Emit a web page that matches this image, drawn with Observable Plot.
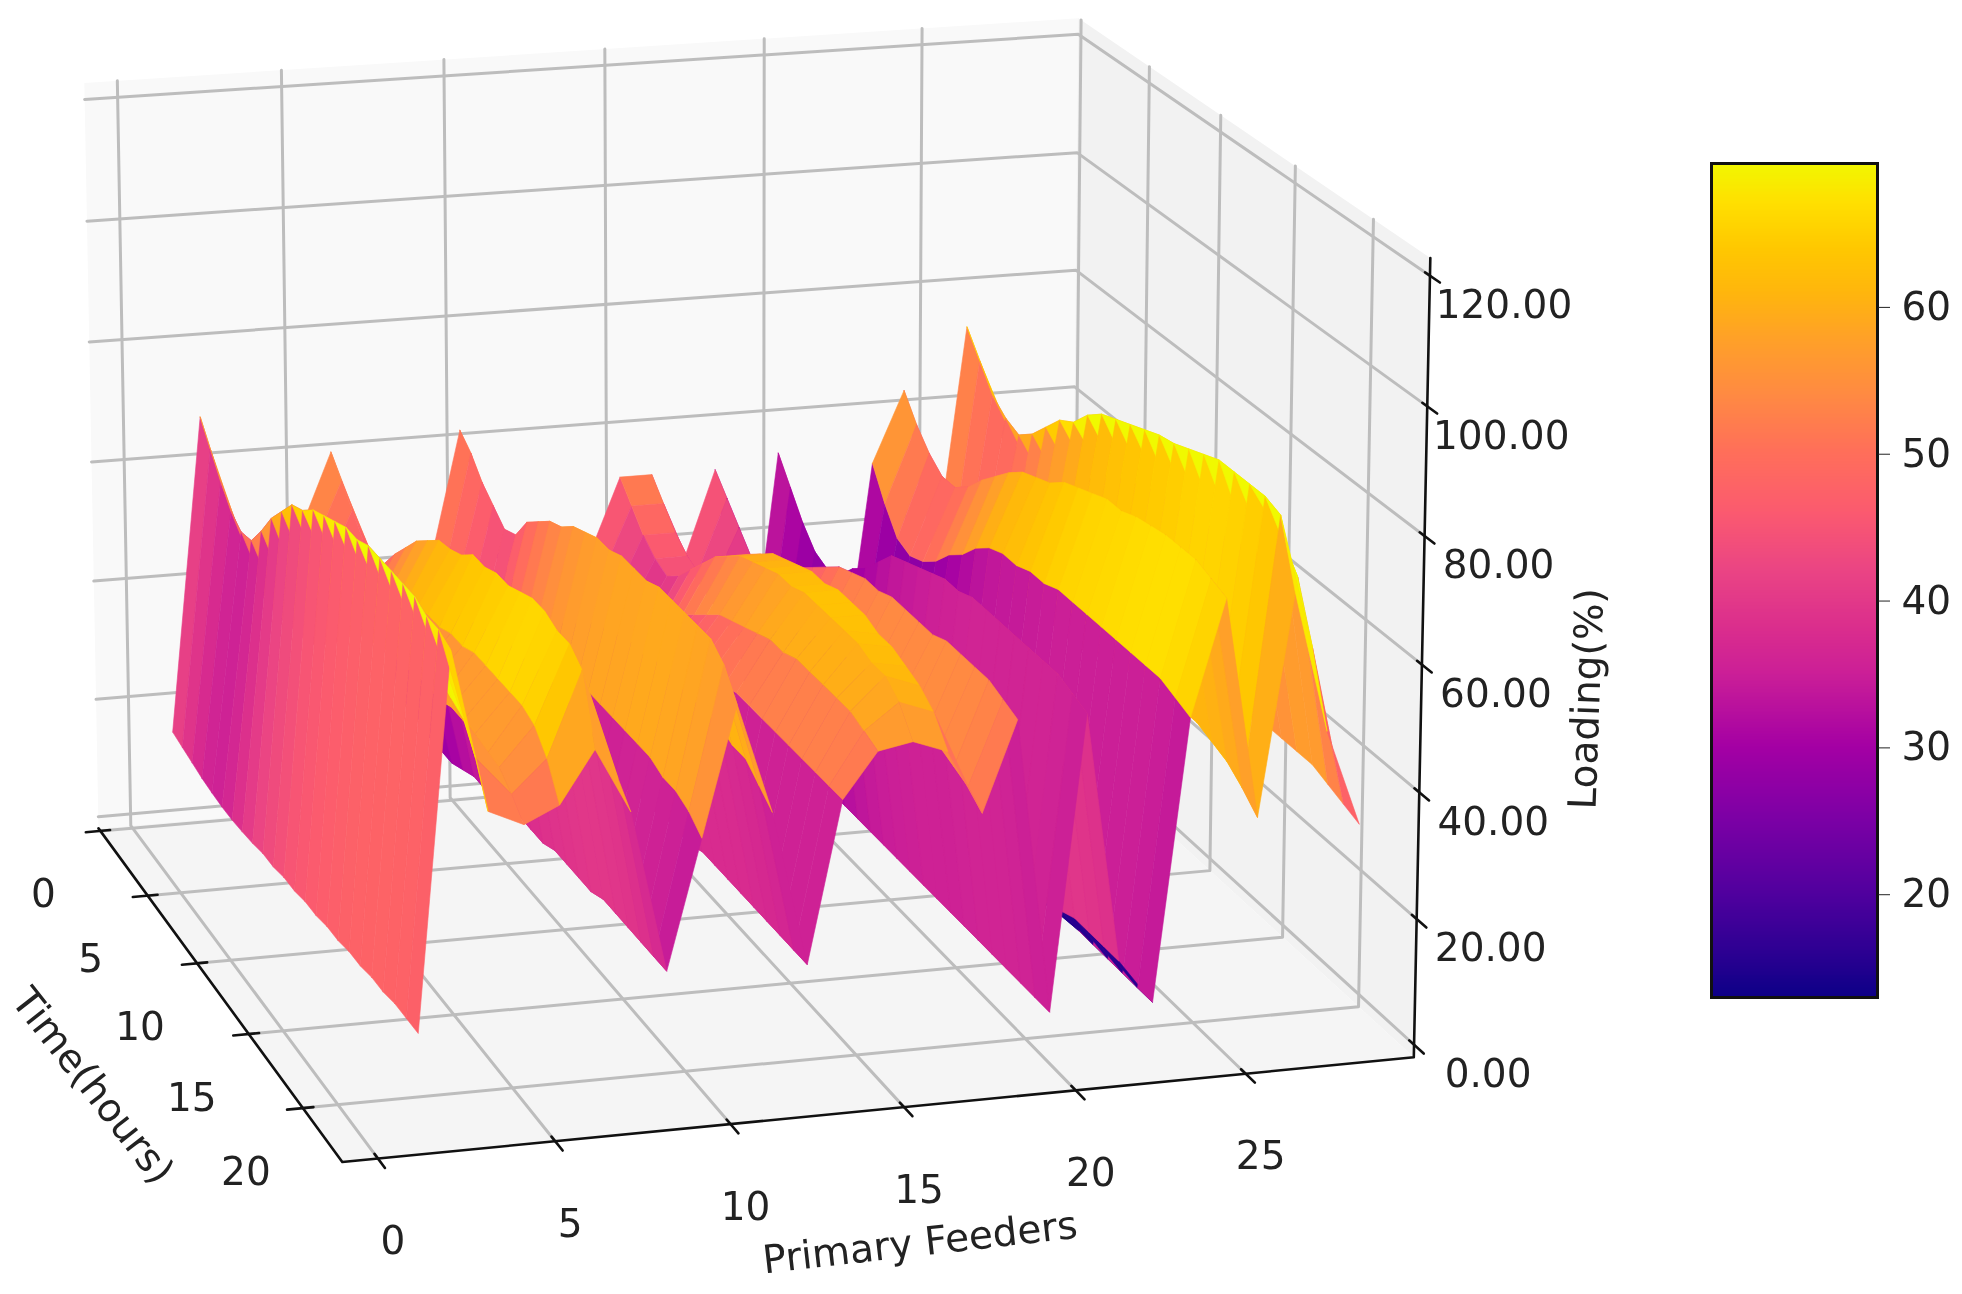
<!DOCTYPE html>
<html><head><meta charset="utf-8">
<script src="https://cdn.jsdelivr.net/npm/d3@7"></script>
<script src="https://cdn.jsdelivr.net/npm/@observablehq/plot@0.6"></script>
<style>body{margin:0;background:#fff}#row{display:flex;width:1962px;height:1294px}svg{display:block;filter:blur(.6px)}</style></head>
<body><div id="row"></div>
<script>
const feeders = d3.range(1,29);
const hours = d3.range(1,25);
const loading = [
[16,15.5,15,14.5,14.2,14,14,14.2,14.5,15,15,15.5,15.5,16,16,16.5,16.5,17,17,17.5,17.5,18,18,18],
[68.5,65,61.5,58.5,57,57.5,61,65,68,71,72,74,75,76,77,77,78,78,78,78,78,77,77,76],
[50,48,46,44,43,44,47,50,54,57,59,60,61,62,62,63,63,63,63,63,62,61,57,51],
[44,42,40,39,38,39,42,44,47,49,50,51,52,52,53,53,53,54,54,54,53,53,51,48.5],
[48,46,44,42,42,43,46,49,52,54,56,57,58,58,59,59,60,60,60,60,60,59,56,51],
[61,58,55,52,51,52,55.5,58.5,61.5,63.5,65.5,66,67,69,69,70,70,71,72,72,71,71,69,59],
[46,44,42,40,39,41,44,46,49,51,52,53,54,55,55,55,56,56,56,55,55,54,52,49],
[20,19,19,18,18,18,19,20,20,21,21,22,22,22,23,23,23,23,24,24,24,24,24,24],
[40,38,37,35,34,35,38,40,42,44,45,46,47,47,48,48,48,48,48,48,47,47,46,44],
[63,61,58,56,54,55,59,61,63,64,66,67,68,68,69,69,69,70,70,70,70,70,68,64],
[44,42,41,39,38,39,42,44,46,48,49,50,51,51,52,52,52,52,52,52,51,51,49,47],
[19,19,18,18,17,18,19,19,20,20,21,21,22,22,22,23,23,23,23,23,23,23,23,23],
[38,37,35,33,33,34,36,38,41,43,44,45,46,47,47,48,48,48,48,48,48,48,48,48],
[40,38,36,35,35,37,40,43,46,48,50,52,53,54,55,56,56,57,57,57,57,57,56,55],
[53,50,47,45,44,46,49,52,55,57,59,60,61,62,62,63,63,63,63,63,62,62,60,56],
[53,50,47,45,44,46,49,52,55,57,59,60,61,62,62,63,63,63,62,62,61,60,58,54],
[38,37,36,35,34,36,38,40,42,44,46,47,48,48,49,49,49,49,49,48,48,47,46,44],
[53,50,47,44,43,45,48,50,52,54,56,57,58,58,59,59,59,59,60,60,60,60,59,58],
[13,13,12.5,12.5,12,12,12,12,12,12,12,12,12,12,12,12,12,12,12,12,12,12,12,12],
[55,51,47,44,43,44,47,49,52,55,56,57,58,59,59,60,60,60,60,60,60,60,59,58],
[14,13,13,13,13,13,13,13,13,13,13,13,13,13,14,14,15,16,17,18,19,19,19,19],
[13,13,13,12,12,12,12,12,12,12,12,12,12,12,12,12,12,12,12,12,12,12,12,12],
[52,47,43,42,43,45,48,50,53,55,56,56,57,57,58,58,58,58,58,58,58,58,57,56],
[64,60,57,55,55,57,60,62.5,65,67,68,69,71,72,73,74,74,75,75.5,76,76,76,75,74],
[34,33,33,34,36,38,40,42,44,45,46,46,47,47,47,47,47,47,46,46,45,44,42,39.5],
[74,70,66,64,63,65,68,71,72.5,75.5,77.5,78.5,79.5,80.5,81.5,82,83,84,85,85,85,85,84,74],
[60,57,55,53,53,55,58,61,63,65,66,67,68,68,69,69,69,70,70,72,76,72,63,52],
[28,27,26,26,26,27,28,29,30,31,32,33,34,35,37,38,39,40,40,40,40,39,38,37]
];
const fTicks=[0,5,10,15,20,25], tTicks=[0,5,10,15,20], zTicks=[0,20,40,60,80,100,120];
const fR=[-1,30], tR=[-0.2,23.5], zR=[-2,122.7];
const colorDomain=[13,16,20,25,30,35,38,42,46,50,54,58,61,64,67,70];
const colorRange=["#0d0087","#2c0092","#50009e","#7b00a5","#a400a4","#cb1f97","#da2d8d","#ea4484","#fb5a6f","#ff6e5a","#ff8a42","#ffa226","#ffb60c","#ffc800","#ffdf00","#f0f900"];
const W=1660,H=1294;
const view={elev:15.7662,azim:-106.1685,dist:8.6037,boxY:.9949,boxZ:.7288};
const screen={sx:9236.92,tx:731.04,sy:-9461.34,ty:556.78};

function makeCam({elev,azim,dist,boxY,boxZ}){const r=Math.PI/180;
  const c=[.5,boxY/2,boxZ/2]; const w=[Math.cos(elev*r)*Math.cos(azim*r),Math.cos(elev*r)*Math.sin(azim*r),Math.sin(elev*r)];
  const E=c.map((v,i)=>v+dist*w[i]);
  let u=[-w[1],w[0],0];const n=Math.hypot(u[0],u[1]);u=u.map(v=>v/n);
  const v=[w[1]*u[2]-w[2]*u[1],w[2]*u[0]-w[0]*u[2],w[0]*u[1]-w[1]*u[0]];
  return (f,t,z)=>{const p=[(f-fR[0])/(fR[1]-fR[0]),(tR[1]-t)/(tR[1]-tR[0])*boxY,(z-zR[0])/(zR[1]-zR[0])*boxZ];
    const d=p.map((a,i)=>a-E[i]);const dep=-(d[0]*w[0]+d[1]*w[1]+d[2]*w[2]);
    return {x:(d[0]*u[0]+d[1]*u[1]+d[2]*u[2])/dep,y:(d[0]*v[0]+d[1]*v[1]+d[2]*v[2])/dep,dep};};
}
const pj=makeCam(view);
const quads=[];
feeders.slice(0,-1).forEach((f,i)=>hours.slice(0,-1).forEach((t,j)=>{
  const zs=[loading[i][j],loading[i+1][j],loading[i+1][j+1],loading[i][j+1]];
  const cs=[[f,t],[f+1,t],[f+1,t+1],[f,t+1]].map((c,k)=>pj(c[0],c[1],zs[k]));
  quads.push({v:d3.mean(zs),dep:d3.mean(cs,c=>c.dep),cs});
}));
quads.sort((a,b)=>b.dep-a.dep);
const qv=[];quads.forEach((q,o)=>[0,1,2,3,0].forEach(k=>qv.push({id:o,v:q.v,x:q.cs[k].x,y:q.cs[k].y})));
const poly=(name,c,pts)=>pts.map(p=>{const r=pj(...p);return {name,c,x:r.x,y:r.y};});
const [f0,f1]=fR,[t0,t1]=tR,[z0,z1]=zR;
const panes=[...poly("back","#f9f9f9",[[f0,t0,z0],[f1,t0,z0],[f1,t0,z1],[f0,t0,z1],[f0,t0,z0]]),
 ...poly("right","#f2f2f2",[[f1,t0,z0],[f1,t1,z0],[f1,t1,z1],[f1,t0,z1],[f1,t0,z0]]),
 ...poly("floor","#f5f5f5",[[f0,t0,z0],[f1,t0,z0],[f1,t1,z0],[f0,t1,z0],[f0,t0,z0]])];
const grid=[];
fTicks.forEach(f=>grid.push(...poly("f"+f,"",[[f,t1,z0],[f,t0,z0],[f,t0,z1]])));
tTicks.forEach(t=>grid.push(...poly("t"+t,"",[[f0,t,z0],[f1,t,z0],[f1,t,z1]])));
zTicks.forEach(z=>grid.push(...poly("z"+z,"",[[f0,t0,z],[f1,t0,z],[f1,t1,z]])));
const axes=[...poly("a1","",[[f0,t0,z0],[f0,t1,z0],[f1,t1,z0],[f1,t1,z1]])];
fTicks.forEach(f=>axes.push(...poly("tf"+f,"",[[f,t1-.3,z0],[f,t1+.6,z0]])));
tTicks.forEach(t=>axes.push(...poly("tt"+t,"",[[f0+.3,t,z0],[f0-.45,t,z0]])));
zTicks.forEach(z=>axes.push(...poly("tz"+z,"",[[f1,t1-.3,z],[f1,t1+.6,z]])));
const lab=(arr,fn)=>arr.map(v=>{const r=pj(...fn(v));return {v,x:r.x,y:r.y};});
const font="DejaVu Sans";
const colorScale={type:"linear",domain:colorDomain,range:colorRange,clamp:true};
const main=Plot.plot({width:W,height:H,margin:0,
  x:{domain:[(0-screen.tx)/screen.sx,(W-screen.tx)/screen.sx],range:[0,W],axis:null},
  y:{domain:[(H-screen.ty)/screen.sy,(0-screen.ty)/screen.sy],range:[H,0],axis:null},
  color:colorScale,
  style:{background:"#fff"},
  marks:[
   Plot.line(panes,{x:"x",y:"y",z:"name",fill:d=>d.c,stroke:"none"}),
   Plot.line(grid,{x:"x",y:"y",z:"name",stroke:"#bdbdbd",strokeWidth:3}),
   Plot.line(axes,{x:"x",y:"y",z:"name",stroke:"#111",strokeWidth:2.6}),
   Plot.line(qv,{x:"x",y:"y",z:"id",fill:"v",stroke:"v",strokeWidth:.6}),
   Plot.text(lab(tTicks,t=>[f0,t,z0]),{x:"x",y:"y",text:d=>String(d.v),dx:-57,dy:64,fontSize:39,fontFamily:font,fill:"#222"}),
   Plot.text(lab(fTicks,f=>[f,t1,z0]),{x:"x",y:"y",text:d=>String(d.v),dx:15,dy:83,fontSize:39,fontFamily:font,fill:"#222"}),
   Plot.text(lab(zTicks,z=>[f1,t1,z]),{x:"x",y:"y",text:d=>d.v.toFixed(2),dx:74,dy:30,fontSize:39,fontFamily:font,fill:"#222"}),
   Plot.text(["Time(hours)"],{x:()=>pj(f0,12,z0).x,y:()=>pj(f0,12,z0).y,dx:-125,dy:95,rotate:52,fontSize:39,fontFamily:font,fill:"#222"}),
   Plot.text(["Primary Feeders"],{x:()=>pj(15,t1,z0).x,y:()=>pj(15,t1,z0).y,dx:16,dy:136,rotate:-6.5,fontSize:39,fontFamily:font,fill:"#222"}),
   Plot.text(["Loading(%)"],{x:()=>pj(f1,t1,60).x,y:()=>pj(f1,t1,60).y,dx:165,dy:34,rotate:-88,fontSize:39,fontFamily:font,fill:"#222"})
  ]});
const cbarVals=d3.range(13,69.8,.1);
const cbar=Plot.plot({width:302,height:H,marginLeft:51,marginRight:85,marginTop:163,marginBottom:H-997,
  x:{domain:[0,1],axis:null},y:{domain:[13,69.8]},
  color:colorScale,
  marks:[
   Plot.rect(cbarVals,{x1:0,x2:1,y1:d=>d,y2:d=>d+.15,fill:d=>d,shapeRendering:"crispEdges"}),
   Plot.frame({stroke:"#111",strokeWidth:3}),
   Plot.axisY({anchor:"right",ticks:[20,30,40,50,60],tickSize:12,fontSize:39,fontFamily:font,label:null,color:"#222",tickPadding:12})
  ]});
document.getElementById("row").append(main,cbar);
</script></body></html>
